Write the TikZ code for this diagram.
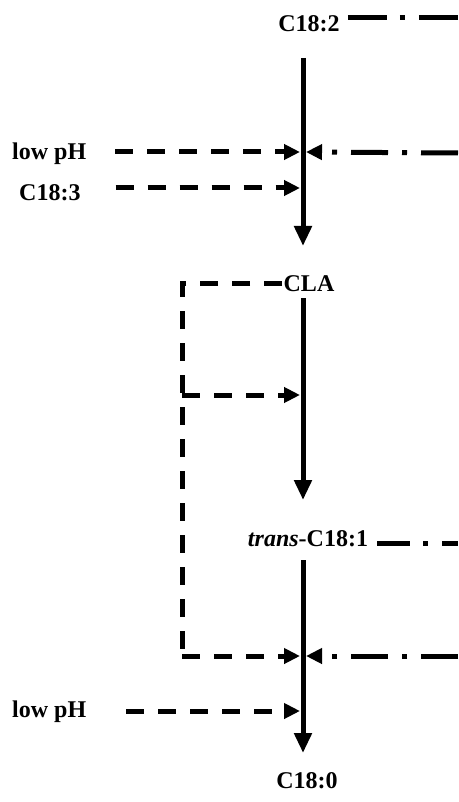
\documentclass[tikz,border=0pt]{standalone}
\usepackage{fontspec}
\setmainfont{Liberation Serif}
\usetikzlibrary{arrows.meta}
\begin{document}
\begin{tikzpicture}[x=1pt,y=-1pt,
  lbl/.style={font=\fontsize{24}{28}\selectfont\bfseries, inner sep=0pt, anchor=base},
  lblw/.style={lbl, anchor=base west},
  mainarr/.style={line width=5pt, -{Triangle[length=20pt,width=17pt]}},
  dsharr/.style={line width=5pt, dash pattern=on 18pt off 14pt, -{Triangle[length=16pt,width=15pt]}},
  dshline/.style={line width=5pt, dash pattern=on 18pt off 14pt},
  ddline/.style={line width=5pt, dash pattern=on 37pt off 14pt on 5pt off 14pt},
  ddarr/.style={ddline, -{Triangle[length=16pt,width=15pt]}},
]
\useasboundingbox (0,0) rectangle (458,802);

% text nodes
\node[lbl] (c182) at (309,32) {C18:2};
\node[lblw] (lowph1) at (12,160) {low pH};
\node[lblw] (c183) at (19,201) {C18:3};
\node[lbl] (cla) at (309,291) {CLA};
\node[lbl] (trans) at (308,546) {\textit{trans}-C18:1};
\node[lblw] (lowph2) at (12,717) {low pH};
\node[lbl] (c180) at (307,788) {C18:0};

% coordinates
\coordinate (v1a) at (303,58);
\coordinate (v1b) at (303,246);
\coordinate (v2a) at (303,298);
\coordinate (v2b) at (303,500);
\coordinate (v3a) at (303,560);
\coordinate (v3b) at (303,753);

\coordinate (r1) at (458,18);
\coordinate (r2) at (458,153);
\coordinate (r3) at (458,543);
\coordinate (r4) at (458,656);

\coordinate (j1l) at (300,152);
\coordinate (j1r) at (306,152);
\coordinate (j2l) at (300,188);
\coordinate (j3l) at (300,395);
\coordinate (j4l) at (300,656);
\coordinate (j4r) at (306,656);
\coordinate (j5l) at (300,711);

\coordinate (b1) at (282,283);
\coordinate (b2) at (182,283);
\coordinate (b3) at (182,395);
\coordinate (b4) at (182,656);

% main pathway
\draw[mainarr] (v1a) -- (v1b);
\draw[mainarr] (v2a) -- (v2b);
\draw[mainarr] (v3a) -- (v3b);

% dash-dot lines to the right
\draw[ddline, dash pattern=on 39pt off 13pt on 5pt off 14pt] ([xshift=8pt]c182.east |- r1) -- (r1);
\draw[ddarr] (r2) -- (j1r);
\draw[ddline, dash pattern=on 33pt off 13pt on 5pt off 14pt] ([xshift=9pt]trans.east |- r3) -- (r3);
\draw[ddarr] (r4) -- (j4r);

% dashed arrows from the left
\draw[dsharr] ([xshift=29pt]lowph1.east |- j1l) -- (j1l);
\draw[dsharr] ([xshift=35pt]c183.east |- j2l) -- (j2l);
\draw[dsharr] ([xshift=40pt]lowph2.east |- j5l) -- (j5l);

% dashed bracket from CLA
\draw[dshline] (b1) -- (b2) -- (b4);
\draw[dsharr] (b3) -- (j3l);
\draw[dsharr] (b4) -- (j4l);
\end{tikzpicture}
\end{document}
